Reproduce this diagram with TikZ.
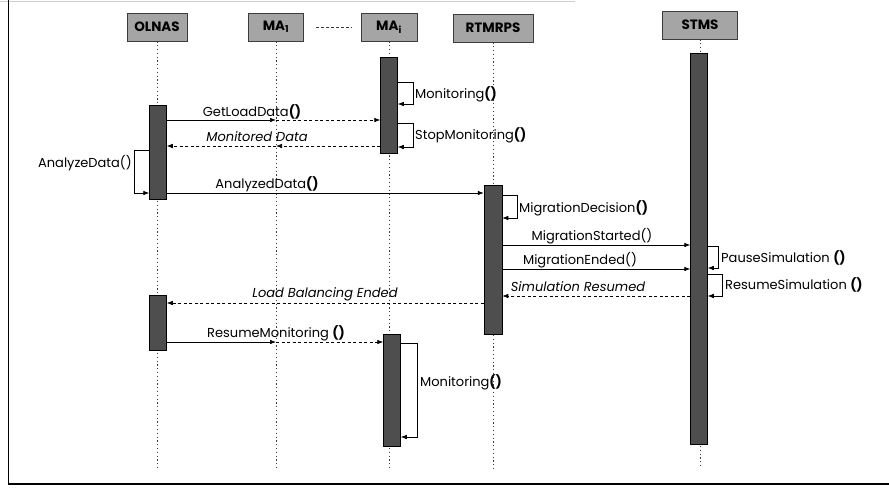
\documentclass[tikz,border=0pt]{standalone}
\usepackage{fontspec}
\setmainfont{Poppins}
\usetikzlibrary{arrows.meta, positioning}
\definecolor{hdrgray}{RGB}{165,165,165}
\definecolor{bargray}{RGB}{78,78,78}
\definecolor{edgegray}{RGB}{60,60,60}
\definecolor{framegray}{RGB}{205,205,205}
\tikzset{
  actor/.style={rectangle, draw=edgegray, fill=hdrgray, minimum height=28pt,
    inner sep=2pt, font=\fontsize{13.5}{15}\selectfont\bfseries, line width=0.6pt},
  actbar/.style={rectangle, draw=black, fill=bargray, minimum width=17pt,
    inner sep=0pt, line width=0.5pt},
  lifeline/.style={draw=edgegray, line width=0.8pt, dash pattern=on 1.2pt off 2.6pt},
  call/.style={-{Latex[length=6pt,width=4.5pt]}, line width=0.6pt, color=black},
  reply/.style={-{Latex[length=6pt,width=4.5pt]}, line width=0.6pt,
    dash pattern=on 3pt off 2.5pt, color=black},
  msg/.style={font=\fontsize{13}{15}\selectfont, inner sep=1pt},
  imsg/.style={font=\fontsize{13}{15}\selectfont\itshape, inner sep=1pt}
}

\begin{document}
\begin{tikzpicture}[x=1pt, y=-1pt]
  \useasboundingbox (0,0) rectangle (889,488);

  % Frame
  \draw[framegray, line width=1pt] (0,1) -- (575,1);
  \draw[black, line width=1pt] (8,0) -- (8,484);
  \draw[black, line width=2pt] (8,484) -- (889,484);

  % Objects
  \node[actor, minimum width=60pt] (olnas) at (157,27) {OLNAS};
  \node[actor, minimum width=55pt] (ma1) at (276,27) {MA\textsubscript{1}};
  \node[actor, minimum width=56pt] (mai) at (389,27) {MA\textsubscript{i}};
  \node[actor, minimum width=80pt] (rtm) at (493,28) {RTMRPS};
  \node[actor, minimum width=75pt] (stm) at (700,25) {STMS};
  \draw[edgegray, line width=0.7pt, dash pattern=on 3pt off 2pt,
    shorten <=12pt, shorten >=9pt] (ma1.east) -- (mai.west);

  % Lifelines
  \draw[lifeline] (olnas.south) -- (olnas.south |- 0,468);
  \draw[lifeline] (ma1.south) -- (ma1.south |- 0,468);
  \draw[lifeline] (mai.south) -- (mai.south |- 0,468);
  \draw[lifeline] (rtm.south) -- (rtm.south |- 0,470);
  \draw[lifeline] (stm.south) -- (stm.south |- 0,467);

  % Activation bars
  \node[actbar, minimum height=94pt] (olnasA) at (158,152) {};
  \node[actbar, minimum height=55pt] (olnasB) at (158,322.5) {};
  \node[actbar, minimum height=96pt] (maiA) at (389,105) {};
  \node[actbar, minimum height=112pt] (maiB) at (392,390) {};
  \node[actbar, minimum height=149pt, minimum width=18pt] (rtmA) at (493,259.5) {};
  \node[actbar, minimum height=391pt] (stmA) at (699,248.5) {};

  % Load data
  \draw[call] (olnasA.east |- 0,120) -- (ma1 |- 0,120);
  \draw[reply] (ma1 |- 0,120) -- (maiA.west |- 0,120);
  \node[msg] (getload) at (252,112) {GetLoadData\textbf{()}};
  \draw[call] (maiA.east |- 0,82) -- ++(16,0) |- (maiA.east |- 0,104);
  \node[msg, anchor=west] (monitor) at (414,94) {Monitoring\textbf{()}};
  \draw[call] (maiA.east |- 0,123) -- ++(16,0) |- (maiA.east |- 0,147);
  \node[msg, anchor=west] (stopmon) at (414,135) {StopMonitoring\textbf{()}};
  \draw[reply] (maiA.west |- 0,146) -- (ma1 |- 0,146);
  \draw[reply] (ma1 |- 0,146) -- (olnasA.east |- 0,146);
  \node[imsg] (mondata) at (257,137) {Monitored Data};

  % Analysis
  \draw[call] (olnasA.west |- 0,150) -- ++(-15,0) |- (olnasA.west |- 0,193);
  \node[msg, anchor=east] (analyze) at (133,163) {AnalyzeData()};
  \draw[call] (olnasA.east |- 0,193) -- (rtmA.west |- 0,193);
  \node[msg] (analyzed) at (267,184) {AnalyzedData\textbf{()}};
  \draw[call] (rtmA.east |- 0,195) -- ++(15,0) |- (rtmA.east |- 0,218);
  \node[msg, anchor=west] (migdec) at (518,208) {MigrationDecision\textbf{()}};

  % Migration
  \draw[call] (rtmA.east |- 0,245) -- (stmA.west |- 0,245);
  \node[msg] (migstart) at (592,236) {MigrationStarted()};
  \draw[call] (rtmA.east |- 0,269) -- (stmA.west |- 0,269);
  \node[msg] (migend) at (580,260) {MigrationEnded()};
  \draw[call] (stmA.east |- 0,246) -- ++(11,0) |- (stmA.east |- 0,268);
  \node[msg, anchor=west] (pause) at (720,258) {PauseSimulation \textbf{()}};
  \draw[call] (stmA.east |- 0,274) -- ++(15,0) |- (stmA.east |- 0,296);
  \node[msg, anchor=west] (resume) at (724,285) {ResumeSimulation \textbf{()}};
  \draw[reply] (stmA.west |- 0,296) -- (rtmA.east |- 0,296);
  \node[imsg] (simres) at (578,287) {Simulation Resumed};
  \draw[reply] (rtmA.west |- 0,303) -- (olnasB.east |- 0,303);
  \node[imsg] (lbend) at (325,294) {Load Balancing Ended};

  % Resume monitoring
  \draw[call] (olnasB.east |- 0,342) -- (ma1 |- 0,342);
  \draw[reply] (ma1 |- 0,342) -- (maiB.west |- 0,342);
  \node[msg] (resmon) at (276,333) {ResumeMonitoring \textbf{()}};
  \draw[call] (maiB.east |- 0,343) -- ++(17,0) |- (maiB.east |- 0,437);
  \node[msg, anchor=west] (monitor2) at (419,382) {Monitoring\textbf{()}};
\end{tikzpicture}
\end{document}
